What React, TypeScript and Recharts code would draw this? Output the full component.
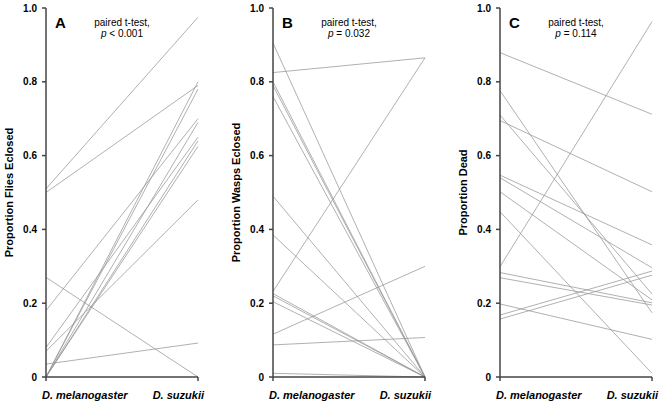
import React from 'react';
import { LineChart, Line, XAxis, YAxis } from 'recharts';

const categories = ['D. melanogaster', 'D. suzukii'];
const yTicks = [0, 0.2, 0.4, 0.6, 0.8, 1.0];

// Panel A: proportion flies eclosed (paired values)
const fliesMel = [0.51, 0.50, 0.27, 0.18, 0.08, 0.07, 0.035, 0.0, 0.0, 0.0, 0.0, 0.0];
const fliesSuz = [0.975, 0.79, 0.0, 0.70, 0.65, 0.48, 0.092, 0.80, 0.78, 0.69, 0.64, 0.625];

// Panel B: proportion wasps eclosed
const waspsMel = [0.905, 0.825, 0.80, 0.79, 0.76, 0.49, 0.385, 0.232, 0.226, 0.22, 0.204, 0.116, 0.087, 0.01];
const waspsSuz = [0.0, 0.865, 0.0, 0.0, 0.0, 0.0, 0.0, 0.865, 0.0, 0.0, 0.0, 0.30, 0.107, 0.0];

// Panel C: proportion dead
const deadMel = [0.879, 0.776, 0.71, 0.695, 0.547, 0.54, 0.502, 0.448, 0.299, 0.283, 0.269, 0.198, 0.168, 0.157];
const deadSuz = [0.712, 0.174, 0.225, 0.502, 0.358, 0.296, 0.209, 0.01, 0.963, 0.201, 0.195, 0.102, 0.287, 0.276];

const panels = [
  { letter: 'A', yLabel: 'Proportion Flies Eclosed', op: '<', p: '0.001', mel: fliesMel, suz: fliesSuz },
  { letter: 'B', yLabel: 'Proportion Wasps Eclosed', op: '=', p: '0.032', mel: waspsMel, suz: waspsSuz },
  { letter: 'C', yLabel: 'Proportion Dead', op: '=', p: '0.114', mel: deadMel, suz: deadSuz },
];

const FONT = '"Liberation Sans", Arial, Helvetica, sans-serif';
const PANEL_W = 227;
const H = 405;
const YAXIS_W = 46;
const MARGIN_R = 29;
const MARGIN_T = 8;
const XAXIS_H = 28;

function buildRows(mel: number[], suz: number[]) {
  return categories.map((cat, i) => {
    const row: Record<string, any> = { cat };
    mel.forEach((v, j) => {
      row['s' + j] = i === 0 ? v : suz[j];
    });
    return row;
  });
}

const XTick = (props: any) => {
  const { x, y, payload } = props;
  const first = payload.value === categories[0];
  return (
    <text
      x={x + (first ? -4 : 6)}
      y={y}
      dy={16}
      textAnchor={first ? 'start' : 'end'}
      fontFamily={FONT}
      fontSize={11}
      fontWeight="bold"
      fontStyle="italic"
      fill="#000"
    >
      {payload.value}
    </text>
  );
};

const YLabel = (text: string) => (props: any) => {
  const vb = props.viewBox || {};
  const cx = 9;
  const cy = (vb.y ?? MARGIN_T) + (vb.height ?? 369) / 2;
  return (
    <text
      x={cx}
      y={cy}
      transform={`rotate(-90, ${cx}, ${cy})`}
      textAnchor="middle"
      dominantBaseline="central"
      fontFamily={FONT}
      fontSize={11}
      fontWeight="bold"
      fill="#000"
    >
      {text}
    </text>
  );
};

function Panel({ idx }: { idx: number }) {
  const pn = panels[idx];
  const rows = buildRows(pn.mel, pn.suz);
  const left = idx * PANEL_W;
  const plotW = PANEL_W - YAXIS_W - MARGIN_R;
  const plotCx = left + YAXIS_W + plotW / 2;
  return (
    <>
      <div style={{ position: 'absolute', left, top: 0, width: PANEL_W, height: H }}>
        <LineChart
          width={PANEL_W}
          height={H}
          data={rows}
          margin={{ top: MARGIN_T, right: MARGIN_R, bottom: 0, left: 0 }}
        >
          <XAxis
            dataKey="cat"
            height={XAXIS_H}
            tick={<XTick />}
            tickSize={4}
            tickLine={{ stroke: '#444', strokeWidth: 1.5 }}
            axisLine={{ stroke: '#444', strokeWidth: 1.5 }}
            interval={0}
          />
          <XAxis
            xAxisId="top"
            dataKey="cat"
            orientation="top"
            height={0}
            tick={false}
            tickLine={false}
            axisLine={{ stroke: '#8c8c8c', strokeWidth: 1.5 }}
          />
          <YAxis
            type="number"
            domain={[0, 1]}
            ticks={yTicks}
            width={YAXIS_W}
            tickSize={4}
            tickMargin={5}
            tickFormatter={(v: number) => (v === 0 ? '0' : v.toFixed(1))}
            tick={{ fontSize: 10, fontWeight: 'bold', fill: '#000', fontFamily: FONT }}
            tickLine={{ stroke: '#444', strokeWidth: 1.5 }}
            axisLine={{ stroke: '#444', strokeWidth: 1.5 }}
            label={{ content: YLabel(pn.yLabel) } as any}
          />
          <YAxis
            yAxisId="right"
            orientation="right"
            type="number"
            domain={[0, 1]}
            width={0}
            tick={false}
            tickLine={false}
            axisLine={{ stroke: '#8c8c8c', strokeWidth: 1.5 }}
          />
          {pn.mel.map((_, j) => (
            <Line
              key={j}
              dataKey={'s' + j}
              stroke="#959595"
              strokeWidth={0.75}
              dot={false}
              activeDot={false}
              isAnimationActive={false}
            />
          ))}
        </LineChart>
      </div>
      <div
        style={{
          position: 'absolute',
          left: left + YAXIS_W + 9,
          top: 15,
          fontFamily: FONT,
          fontWeight: 'bold',
          fontSize: 15,
          lineHeight: '15px',
          color: '#000',
        }}
      >
        {pn.letter}
      </div>
      <div
        style={{
          position: 'absolute',
          left: plotCx - 50,
          width: 100,
          top: 17,
          textAlign: 'center',
          fontFamily: FONT,
          fontSize: 10,
          lineHeight: '11px',
          color: '#000',
        }}
      >
        <div>paired t-test,</div>
        <div>
          <i>p</i> {pn.op} {pn.p}
        </div>
      </div>
    </>
  );
}

export default function App() {
  return (
    <div style={{ position: 'absolute', left: 0, top: 0, width: 662, height: H, background: '#fff' }}>
      <Panel idx={0} />
      <Panel idx={1} />
      <Panel idx={2} />
    </div>
  );
}
